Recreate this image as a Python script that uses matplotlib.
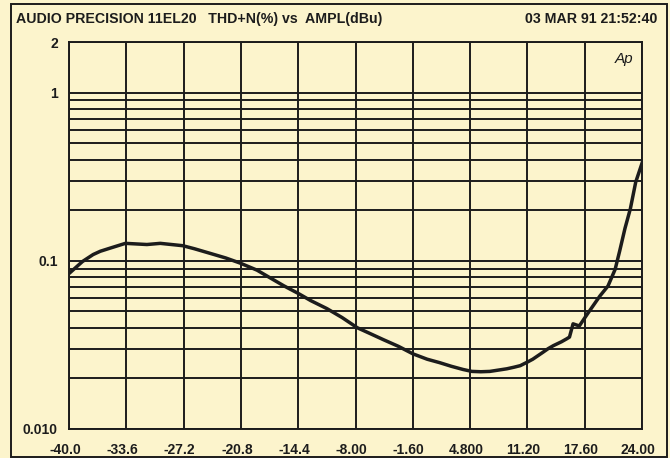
import numpy as np
import matplotlib
matplotlib.use("Agg")
import matplotlib.pyplot as plt
from matplotlib.patches import Rectangle
from matplotlib.ticker import FixedLocator, LogLocator, NullFormatter
import matplotlib.transforms as mtransforms

# amplitude sweep (dBu) and THD+N (%)
ampl_dbu = [-40.0, -38.5, -37.3, -36.5, -35.4, -33.7, -32.5, -31.3, -29.8, -27.3,
            -26.0, -24.3, -22.5, -20.9, -19.0, -17.5, -16.0, -14.4, -13.0, -11.2,
            -9.5, -7.8, -6.4, -4.9, -3.2, -1.6, 0.0, 1.4, 2.7, 4.0,
            5.0, 6.0, 7.0, 8.9, 9.7, 10.4, 11.2, 11.8, 12.9, 13.5,
            14.1, 15.0, 15.6, 15.9, 16.3, 17.0, 17.9, 19.3, 20.2, 21.0,
            21.5, 22.1, 22.7, 23.3, 24.0]
thd_pct = [0.084, 0.099, 0.109, 0.114, 0.119, 0.127, 0.126, 0.125, 0.127, 0.123,
           0.118, 0.111, 0.104, 0.097, 0.088, 0.079, 0.071, 0.064, 0.058, 0.052,
           0.046, 0.040, 0.037, 0.034, 0.031, 0.028, 0.026, 0.0248, 0.0236, 0.0226,
           0.022, 0.0219, 0.022, 0.0228, 0.0233, 0.0238, 0.025, 0.026, 0.0285, 0.030,
           0.0313, 0.033, 0.0344, 0.0352, 0.0422, 0.041, 0.0483, 0.0618, 0.0708, 0.089,
           0.114, 0.156, 0.204, 0.294, 0.38]

x_ticks = [-40.0, -33.6, -27.2, -20.8, -14.4, -8.0, -1.6, 4.8, 11.2, 17.6, 24.0]
x_labels = ["-40.0", "-33.6", "-27.2", "-20.8", "-14.4", "-8.00", "-1.60",
            "4.800", "11.20", "17.60", "24.00"]
y_ticks = [0.01, 0.1, 1, 2]
y_labels = ["0.010", "0.1", "1", "2"]

title_left = "AUDIO PRECISION 11EL20   THD+N(%) vs  AMPL(dBu)"
title_right = "03 MAR 91 21:52:40"

bg = "#fcf4cc"
ink = "#1c1c1c"
font = ["Liberation Sans Narrow", "Liberation Sans", "DejaVu Sans"]

fig = plt.figure(figsize=(6.7, 4.58), dpi=100, facecolor=bg)
ax = fig.add_axes([69 / 670, 1 - 429 / 458, 573 / 670, 387 / 458], facecolor=bg)

ax.set_yscale("log")
ax.set_xlim(-40, 24)
ax.set_ylim(0.01, 2)

# grid: every x tick, every log decade step on y
ax.xaxis.set_major_locator(FixedLocator(x_ticks))
ax.yaxis.set_major_locator(FixedLocator(y_ticks))
ax.yaxis.set_minor_locator(LogLocator(base=10, subs=np.arange(2, 10)))
ax.yaxis.set_minor_formatter(NullFormatter())
ax.grid(True, which="major", color=ink, lw=1.4)
ax.grid(True, which="minor", axis="y", color=ink, lw=1.4)
ax.set_axisbelow(True)

ax.set_xticklabels(x_labels)
ax.set_yticklabels(y_labels)
ax.tick_params(which="both", length=0)
ax.tick_params(axis="x", pad=10)
ax.tick_params(axis="y", pad=8)
for lab in ax.get_xticklabels() + ax.get_yticklabels():
    lab.set_family(font)
    lab.set_fontweight("bold")
    lab.set_fontsize(10)
    lab.set_color(ink)
shift = mtransforms.ScaledTranslation(-4 / 100, 0, fig.dpi_scale_trans)
for lab in ax.get_xticklabels():
    lab.set_transform(lab.get_transform() + shift)

for s in ax.spines.values():
    s.set_color(ink)
    s.set_linewidth(1.4)

ax.plot(ampl_dbu, thd_pct, color=ink, lw=2.5, solid_joinstyle="round")

ax.text(0.985, 0.975, "Ap", transform=ax.transAxes, ha="right", va="top",
        fontsize=11, style="italic", family=["Liberation Sans", "DejaVu Sans"], color=ink)

fig.text(16 / 670, 1 - 19 / 458, title_left, ha="left", va="center",
         fontsize=10.2, fontweight="bold", family=font, color=ink)
fig.text(657 / 670, 1 - 19 / 458, title_right, ha="right", va="center",
         fontsize=10.2, fontweight="bold", family=font, color=ink)

fig.patches.append(Rectangle((11 / 670, 1 / 458), 656 / 670, 453 / 458,
                             transform=fig.transFigure, fill=False,
                             edgecolor=ink, lw=1.4))

fig.savefig("out.png", dpi=100, facecolor=bg)
